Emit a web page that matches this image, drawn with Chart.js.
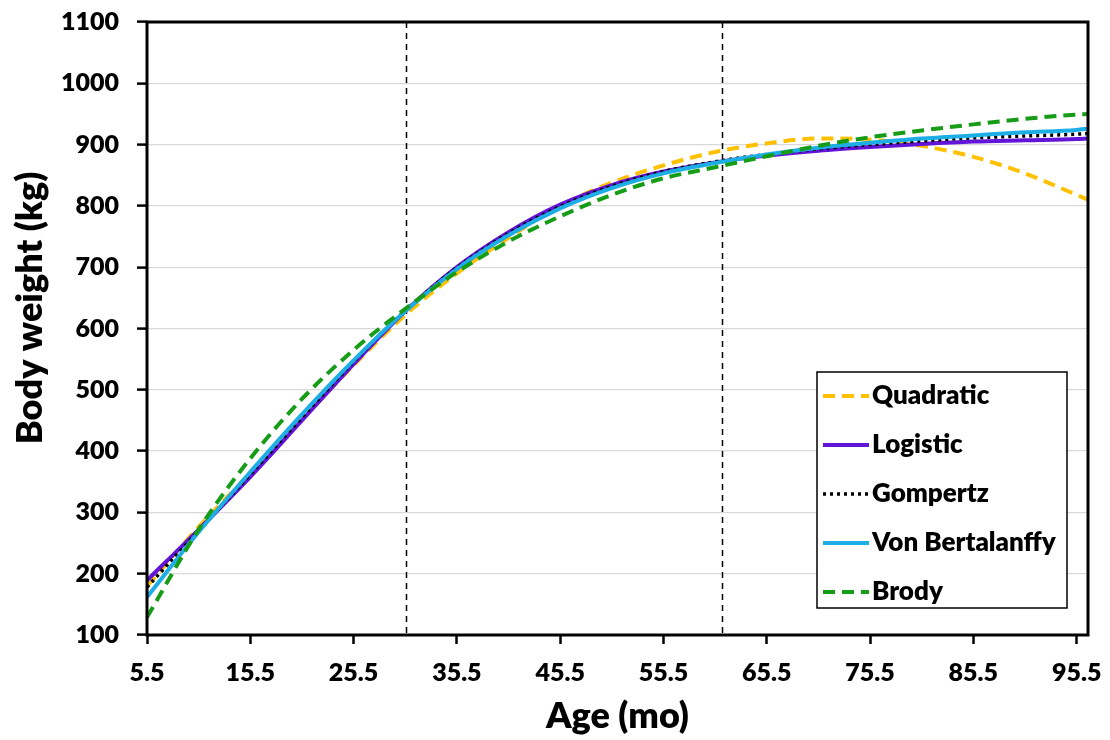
<!DOCTYPE html>
<html lang="en">
<head>
<meta charset="UTF-8" />
<title>Body weight growth curves</title>
<script src="https://cdn.jsdelivr.net/npm/chart.js"></script>
<style>
  html, body { margin: 0; padding: 0; background: #ffffff; }
  #area-chart { width: 1110px; height: 740px; }
</style>
</head>
<body>
<div id="area-chart">
  <canvas id="growthChart" width="1110" height="740"></canvas>
</div>

<script>
// ages (months) where each fitted curve was sampled
const ageMonths = [5.5, 10.5, 15.5, 20.5, 25.5, 30.5, 35.5, 40.5, 45.5, 50.5,
                   55.5, 60.5, 65.5, 70.5, 75.5, 80.5, 85.5, 90.5, 95.5, 96.6];

// body weight (kg) of each model
const quadratic   = [180, 276, 364, 452, 540, 622, 690, 748, 800, 838, 866, 888, 902, 910, 908, 898, 880, 853, 818, 810];
const logistic    = [189, 272, 358, 450, 542, 628, 700, 757, 802, 834, 856, 871, 882, 890, 896, 901, 905, 907, 909, 910];
const gompertz    = [178, 270, 362, 455, 546, 629, 699, 755, 799, 832, 856, 872, 884, 893, 900, 906, 911, 914, 917, 918];
const bertalanffy = [162, 268, 366, 460, 548, 628, 697, 752, 796, 829, 853, 870, 884, 895, 903, 910, 915, 920, 924, 926];
const brody       = [129, 272, 388, 485, 565, 632, 692, 742, 783, 818, 845, 863, 881, 898, 912, 923, 933, 942, 949, 950];

const seriesNames = ["Quadratic", "Logistic", "Gompertz", "Von Bertalanffy", "Brody"];

// axis ticks and the two phase limits (vertical dashed lines)
const xTicks = [5.5, 15.5, 25.5, 35.5, 45.5, 55.5, 65.5, 75.5, 85.5, 95.5];
const xTickLabels = ["5.5", "15.5", "25.5", "35.5", "45.5", "55.5", "65.5", "75.5", "85.5", "95.5"];
const phaseLimits = [30.6, 61.2];

const FONT = "Lato, 'Open Sans', sans-serif";

function pontos(valores) {
  return valores.map((v, i) => ({ x: ageMonths[i], y: v }));
}

const data = {
  datasets: [
    { label: seriesNames[0], data: pontos(quadratic), borderColor: "#FFC000", borderWidth: 4, borderDash: [12, 7], order: 5 },
    { label: seriesNames[1], data: pontos(logistic), borderColor: "#6214D9", borderWidth: 4, order: 4 },
    { label: seriesNames[2], data: pontos(gompertz), borderColor: "#000000", borderWidth: 3.5, borderDash: [3, 4], order: 3 },
    { label: seriesNames[3], data: pontos(bertalanffy), borderColor: "#1DAEE6", borderWidth: 4, order: 2 },
    { label: seriesNames[4], data: pontos(brody), borderColor: "#169C16", borderWidth: 4, borderDash: [12, 7], order: 1 },
  ],
};
data.datasets.forEach(ds => {
  ds.pointRadius = 0;
  ds.fill = false;
  ds.cubicInterpolationMode = "monotone";
});

// dashed phase lines, plot frame, axis titles and the boxed legend
const extras = {
  id: "extras",
  beforeDatasetsDraw(chart) {
    const { ctx, chartArea, scales } = chart;
    ctx.save();
    ctx.strokeStyle = "#000";
    ctx.lineWidth = 1.5;
    ctx.setLineDash([6, 5]);
    phaseLimits.forEach(v => {
      const x = Math.round(scales.x.getPixelForValue(v)) + 0.5;
      ctx.beginPath();
      ctx.moveTo(x, chartArea.top);
      ctx.lineTo(x, chartArea.bottom);
      ctx.stroke();
    });
    ctx.restore();
  },
  afterDraw(chart) {
    const { ctx, chartArea } = chart;
    ctx.save();
    ctx.strokeStyle = "#000";
    ctx.lineWidth = 3;
    ctx.strokeRect(chartArea.left, chartArea.top, chartArea.right - chartArea.left, chartArea.bottom - chartArea.top);

    // axis titles
    ctx.fillStyle = "#000";
    ctx.font = "800 36px " + FONT;
    ctx.textAlign = "center";
    ctx.textBaseline = "middle";
    ctx.fillText("Age (mo)", (chartArea.left + chartArea.right) / 2, 716);
    ctx.save();
    ctx.translate(30, 308);
    ctx.rotate(-Math.PI / 2);
    ctx.fillText("Body weight (kg)", 0, 0);
    ctx.restore();

    // legend box
    const bx = chartArea.right - 271, by = chartArea.bottom - 263, bw = 250, bh = 236;
    ctx.fillStyle = "#fff";
    ctx.fillRect(bx, by, bw, bh);
    ctx.lineWidth = 1.5;
    ctx.strokeRect(bx, by, bw, bh);
    ctx.font = "800 26px " + FONT;
    ctx.textAlign = "left";
    chart.data.datasets.forEach((ds, i) => {
      const y = by + 24 + i * 49;
      ctx.strokeStyle = ds.borderColor;
      ctx.lineWidth = ds.borderWidth;
      ctx.setLineDash(ds.borderDash || []);
      ctx.beginPath();
      ctx.moveTo(bx + 6, y);
      ctx.lineTo(bx + 52, y);
      ctx.stroke();
      ctx.setLineDash([]);
      ctx.fillStyle = "#000";
      ctx.fillText(ds.label, bx + 55, y);
    });
    ctx.restore();
  },
};

const config = {
  type: "line",
  data: data,
  options: {
    responsive: false,
    animation: false,
    devicePixelRatio: 1,
    layout: { padding: { top: 22, right: 22, left: 0, bottom: 0 } },
    plugins: { legend: { display: false }, tooltip: { enabled: false } },
    scales: {
      x: {
        type: "linear",
        min: 5.5,
        max: 96.6,
        afterBuildTicks: axis => { axis.ticks = xTicks.map(v => ({ value: v })); },
        afterFit: axis => {
          axis.height = 105;
          axis.paddingLeft = 0;
          axis.paddingRight = 0;
        },
        ticks: {
          autoSkip: false,
          maxRotation: 0,
          padding: 14,
          color: "#000",
          font: { family: FONT, size: 25, weight: "800" },
          callback: (v, i) => xTickLabels[i],
        },
        grid: { drawOnChartArea: false, tickLength: 9, tickColor: "#000", tickWidth: 2.5 },
        border: { display: false },
      },
      y: {
        min: 100,
        max: 1100,
        afterFit: axis => {
          axis.width = 147;
          axis.paddingTop = 0;
          axis.paddingBottom = 0;
        },
        ticks: {
          stepSize: 100,
          padding: 18,
          color: "#000",
          font: { family: FONT, size: 25, weight: "800" },
          callback: v => String(v),
        },
        grid: { color: "#d9d9d9", lineWidth: 1.2, tickLength: 10, tickColor: "#000", tickWidth: 2.5 },
        border: { display: false },
      },
    },
  },
  plugins: [extras],
};

const growthChart = new Chart(document.getElementById("growthChart"), config);
</script>
</body>
</html>
